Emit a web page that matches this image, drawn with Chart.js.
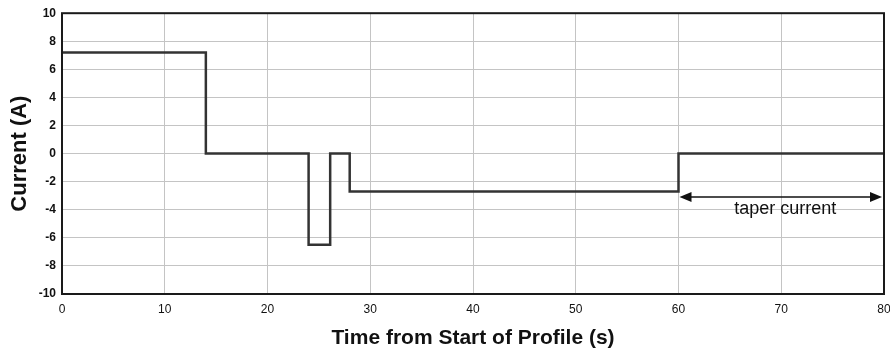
<!DOCTYPE html>
<html>
<head>
<meta charset="utf-8">
<script src="https://cdn.jsdelivr.net/npm/chart.js@4"></script>
<style>
  html, body { margin: 0; padding: 0; background: #fff; }
  #wrap { width: 890px; height: 357px; position: relative; }
</style>
</head>
<body>
<div id="wrap"><canvas id="c"></canvas></div>
<script>
// profile data (s, A)
const times = [0, 14, 24, 26.1, 28, 60, 80];
const currents = [7.2, 0, -6.5, 0, -2.7, 0, 0];

// annotation: taper current arrow
const taperFrom = 60;
const taperTo = 80;
const taperY = -3.1;
const taperLabel = 'taper current';

const xTicks = [0, 10, 20, 30, 40, 50, 60, 70, 80];
const yTicks = [-10, -8, -6, -4, -2, 0, 2, 4, 6, 8, 10];

const FONT = '"Liberation Sans", Arial, sans-serif';

// frame + arrow overlay
const frameAndArrow = {
  id: 'frameAndArrow',
  afterDatasetsDraw(chart) {
    const ctx = chart.ctx, ca = chart.chartArea;
    const xs = chart.scales.x, ys = chart.scales.y;
    ctx.save();
    ctx.strokeStyle = '#1a1a1a';
    ctx.lineWidth = 2;
    ctx.strokeRect(ca.left, ca.top, ca.right - ca.left, ca.bottom - ca.top);

    const x1 = xs.getPixelForValue(taperFrom), x2 = xs.getPixelForValue(taperTo);
    const y = ys.getPixelForValue(taperY);
    const head = 12, hw = 5;
    ctx.strokeStyle = '#111';
    ctx.fillStyle = '#111';
    ctx.lineWidth = 1.5;
    ctx.beginPath(); ctx.moveTo(x1 + head, y); ctx.lineTo(x2 - head, y); ctx.stroke();
    ctx.beginPath(); ctx.moveTo(x1 + 1, y); ctx.lineTo(x1 + 1 + head, y - hw); ctx.lineTo(x1 + 1 + head, y + hw); ctx.closePath(); ctx.fill();
    ctx.beginPath(); ctx.moveTo(x2 - 2, y); ctx.lineTo(x2 - 2 - head, y - hw); ctx.lineTo(x2 - 2 - head, y + hw); ctx.closePath(); ctx.fill();

    ctx.font = '18px ' + FONT;
    ctx.textAlign = 'center';
    ctx.textBaseline = 'middle';
    ctx.fillStyle = '#111';
    ctx.fillText(taperLabel, (x1 + x2) / 2 + 4, ys.getPixelForValue(-3.95));
    ctx.restore();
  }
};

new Chart(document.getElementById('c'), {
  type: 'line',
  data: {
    datasets: [{
      data: times.map((t, i) => ({ x: t, y: currents[i] })),
      borderColor: '#333',
      borderWidth: 2.5,
      pointRadius: 0,
      stepped: true,
      fill: false
    }]
  },
  options: {
    responsive: true,
    maintainAspectRatio: false,
    animation: false,
    layout: { padding: { top: 11, right: 6, left: 0, bottom: 0 } },
    plugins: { legend: { display: false }, tooltip: { enabled: false } },
    scales: {
      x: {
        type: 'linear',
        min: 0, max: 80,
        afterBuildTicks: s => { s.ticks = xTicks.map(v => ({ value: v })); },
        afterFit: s => { s.height = 63; s.paddingLeft = 0; s.paddingRight = 0; },
        grid: { color: '#c4c4c4', lineWidth: 1, drawTicks: false },
        border: { display: false },
        ticks: { color: '#111', padding: 8, maxRotation: 0, font: { family: FONT, size: 12 } },
        title: {
          display: true, text: 'Time from Start of Profile (s)', color: '#111',
          font: { family: FONT, size: 21, weight: 'bold' }, padding: { top: 4, bottom: 6 }
        }
      },
      y: {
        min: -10, max: 10,
        afterBuildTicks: s => { s.ticks = yTicks.map(v => ({ value: v })); },
        afterFit: s => { s.width = 62; },
        grid: { color: '#c4c4c4', lineWidth: 1, drawTicks: false },
        border: { display: false },
        ticks: { color: '#111', padding: 6, font: { family: FONT, size: 12, weight: 'bold' } },
        title: {
          display: true, text: 'Current (A)', color: '#111',
          font: { family: FONT, size: 22, weight: 'bold' }, padding: { top: 7, bottom: 7 }
        }
      }
    }
  },
  plugins: [frameAndArrow]
});
</script>
</body>
</html>
